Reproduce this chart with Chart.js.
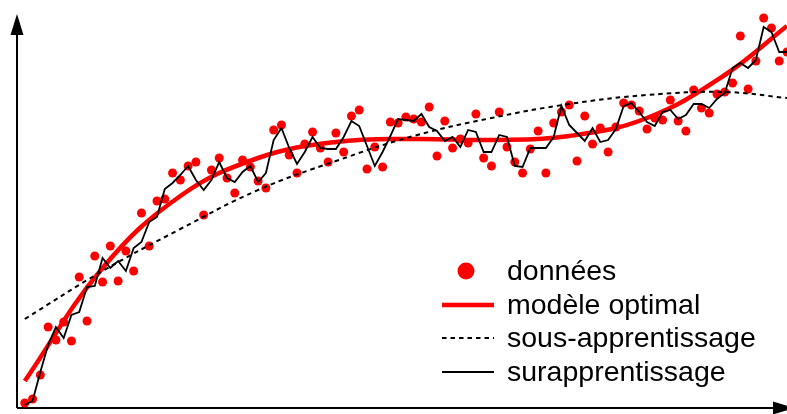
<!DOCTYPE html>
<html>
<head>
<meta charset="utf-8">
<script src="https://cdn.jsdelivr.net/npm/chart.js@4.4.0/dist/chart.umd.min.js"></script>
<style>
  html, body { margin: 0; padding: 0; background: #fff; }
</style>
</head>
<body>
<canvas id="chart" width="787" height="414"></canvas>
<script>
// Observations (one per step along x, height in arbitrary units)
const pointValues = [
  1.25, 2.25, 8.25, 20.25, 17, 21.5, 16.75, 32.75, 21.75, 38,
  31.5, 40.5, 31.75, 39.25, 34.25, 48.75, 40.5, 51.75, 52.25, 58.75,
  57, 60.5, 61.5, 48.25, 59.5, 62.5, 57.5, 53.75, 62, 60.25,
  56.75, 55, 69.5, 70.75, 63.25, 58.75, 66, 69, 65, 61.5,
  68.75, 64, 73, 74.5, 59.75, 65.25, 60.25, 71.5, 71.25, 72.75,
  72.25, 71.5, 75.25, 63, 71.75, 65, 67.25, 66.25, 73.5, 62.5,
  60.5, 74, 65.25, 61.5, 58.75, 64.75, 69.25, 58.75, 71.25, 74,
  75.75, 61.75, 73, 66, 70, 64, 70.25, 76.25, 75.75, 74.25,
  69.75, 72.5, 72, 77, 71.75, 69.25, 79.5, 75, 73.75, 78.5,
  79, 81.25, 93, 79.75, 86.75, 97.5, 95, 86.75, 89
];

// Overfitted model, evaluated at each observation
const overfitValues = [
  0.75, 1.75, 9, 15.75, 20.25, 17.5, 23.25, 24, 30.25, 30.5,
  37.5, 35, 36.75, 34.25, 40, 41.5, 46.5, 47.75, 54.75, 56.25,
  58.25, 60.5, 57, 54.5, 57, 61.5, 57.5, 56.5, 59, 60.5,
  56.5, 58.75, 67, 70, 65, 61, 64, 67.75, 65, 64.75,
  64.75, 67.75, 71.75, 70.5, 65.5, 60.5, 64, 68, 72.25, 72,
  71.75, 73.5, 70.25, 69.25, 66.75, 67.75, 65.25, 69.5, 69, 64,
  64, 68.25, 67.75, 60.5, 60.25, 65, 65, 65, 67.75, 75.5,
  70.75, 68.75, 66.75, 70, 66.5, 67, 69.75, 75.5, 76.25, 74,
  71.5, 70.5, 74, 74.5, 72.25, 73.25, 76, 76, 75, 77.25,
  78.75, 85, 86.25, 85, 87, 95.25, 94, 89, 89
];

// Smooth models, sampled along x
const modelX = [0, 10, 20, 30, 40, 50, 60, 70, 80, 90, 98];
const optimalValues = [6.75, 35, 53, 62.5, 66.5, 67.25, 67, 68, 72.5, 83.25, 95.5];
const underfitValues = [22.25, 34.25, 44.75, 54.5, 61.75, 68, 72.5, 76, 78.25, 79, 77.5];

const seriesNames = ["données", "modèle optimal", "sous-apprentissage", "surapprentissage"];

const RED = "#ff0000";
const FONT = "28.5px 'Liberation Sans', Arial, sans-serif";

const toXY = (vals, xs) => vals.map((v, i) => ({ x: xs ? xs[i] : i, y: v }));

// Axes with arrow heads
const axesPlugin = {
  id: "axes",
  beforeDatasetsDraw(chart) {
    const { ctx, chartArea } = chart;
    const x0 = chartArea.left, y0 = chartArea.bottom;
    ctx.save();
    ctx.strokeStyle = "#000";
    ctx.fillStyle = "#000";
    ctx.lineWidth = 2;
    ctx.beginPath();
    ctx.moveTo(x0, y0);
    ctx.lineTo(x0, 30);
    ctx.moveTo(x0, y0);
    ctx.lineTo(780, y0);
    ctx.stroke();
    // up arrow
    ctx.beginPath();
    ctx.moveTo(x0, 14);
    ctx.lineTo(x0 - 6.5, 35);
    ctx.lineTo(x0 + 6.5, 35);
    ctx.closePath();
    ctx.fill();
    // right arrow
    ctx.beginPath();
    ctx.moveTo(794, y0);
    ctx.lineTo(773, y0 - 6.5);
    ctx.lineTo(773, y0 + 6.5);
    ctx.closePath();
    ctx.fill();
    ctx.restore();
  }
};

// Legend drawn inside the plot, lower right
const legendPlugin = {
  id: "innerLegend",
  afterDatasetsDraw(chart) {
    const { ctx } = chart;
    const rows = [271, 305, 338, 372];
    const x1 = 442, x2 = 494, tx = 507;
    ctx.save();
    // dot
    ctx.fillStyle = RED;
    ctx.beginPath();
    ctx.arc(466, rows[0], 8.5, 0, Math.PI * 2);
    ctx.fill();
    // optimal
    ctx.strokeStyle = RED;
    ctx.lineWidth = 4.5;
    ctx.beginPath();
    ctx.moveTo(x1, rows[1]); ctx.lineTo(x2, rows[1]);
    ctx.stroke();
    // underfit
    ctx.strokeStyle = "#000";
    ctx.lineWidth = 2;
    ctx.setLineDash([4.5, 4]);
    ctx.beginPath();
    ctx.moveTo(x1, rows[2]); ctx.lineTo(x2, rows[2]);
    ctx.stroke();
    ctx.setLineDash([]);
    // overfit
    ctx.lineWidth = 1.8;
    ctx.beginPath();
    ctx.moveTo(x1, rows[3]); ctx.lineTo(x2, rows[3]);
    ctx.stroke();
    // labels
    ctx.fillStyle = "#000";
    ctx.font = FONT;
    ctx.textBaseline = "middle";
    seriesNames.forEach((name, i) => ctx.fillText(name, tx, rows[i] + 1));
    ctx.restore();
  }
};

new Chart(document.getElementById("chart"), {
  type: "line",
  data: {
    datasets: [
      {
        label: seriesNames[3],
        data: toXY(overfitValues),
        borderColor: "#000",
        borderWidth: 1.8,
        pointRadius: 0,
        tension: 0,
        fill: false,
        clip: false,
        order: 0
      },
      {
        label: seriesNames[2],
        data: toXY(underfitValues, modelX),
        borderColor: "#000",
        borderWidth: 2,
        borderDash: [4.5, 4],
        pointRadius: 0,
        tension: 0.4,
        fill: false,
        clip: false,
        order: 1
      },
      {
        label: seriesNames[1],
        data: toXY(optimalValues, modelX),
        borderColor: RED,
        borderWidth: 4.5,
        pointRadius: 0,
        tension: 0.4,
        fill: false,
        clip: false,
        order: 2
      },
      {
        label: seriesNames[0],
        data: toXY(pointValues),
        showLine: false,
        pointRadius: 4.5,
        pointBackgroundColor: RED,
        pointBorderWidth: 0,
        borderColor: RED,
        clip: false,
        order: 3
      }
    ]
  },
  options: {
    responsive: false,
    animation: false,
    devicePixelRatio: 1,
    layout: { autoPadding: false, padding: { left: 17, right: 0, top: 0, bottom: 6 } },
    scales: {
      x: { type: "linear", min: -1, max: 98, display: false },
      y: { min: 0, max: 102, display: false }
    },
    plugins: {
      legend: { display: false },
      tooltip: { enabled: false }
    }
  },
  plugins: [axesPlugin, legendPlugin]
});
</script>
</body>
</html>
